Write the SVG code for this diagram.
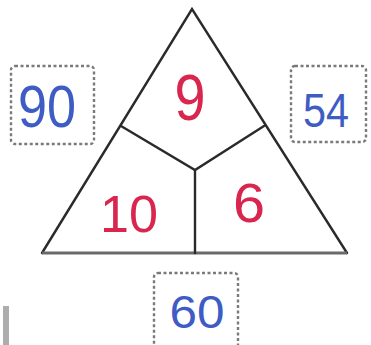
<svg xmlns="http://www.w3.org/2000/svg" width="371" height="345" viewBox="0 0 371 345">
<style>
.edge{stroke:#2a2a2a;stroke-width:2.4;fill:none;stroke-linejoin:miter;stroke-linecap:round}
.box{fill:none;stroke:#7a7a7a;stroke-width:2.4;stroke-dasharray:3 2.5}
.red{fill:#d9264f;font-family:"Liberation Sans",sans-serif;text-anchor:middle}
.blue{fill:#3e5cc4;font-family:"Liberation Sans",sans-serif;text-anchor:middle}
</style>
<rect width="371" height="345" fill="#ffffff"/>
<g id="connectors">
<path class="edge" d="M42,253 L192,9 L347,253"/>
<path d="M42,253 L347,253" stroke="#6a6a6a" stroke-width="3" fill="none"/>
<path class="edge" d="M121,126 L195,170 L264,126"/>
<path class="edge" d="M195,170 L195,253"/>
</g>
<g id="top"><text class="red" x="190" y="120" font-size="64" textLength="31" lengthAdjust="spacingAndGlyphs">9</text></g>
<g id="left"><text class="red" x="129" y="232" font-size="52" textLength="58" lengthAdjust="spacingAndGlyphs">10</text></g>
<g id="right"><text class="red" x="249" y="222" font-size="56" textLength="32" lengthAdjust="spacingAndGlyphs">6</text></g>
<g id="box-90"><rect class="box" x="11" y="66" width="83" height="78" rx="4"/><text class="blue" x="47" y="127" font-size="60" textLength="58" lengthAdjust="spacingAndGlyphs">90</text></g>
<g id="box-54"><rect class="box" x="291" y="66" width="75" height="76" rx="4"/><text class="blue" x="326" y="127" font-size="48" textLength="46" lengthAdjust="spacingAndGlyphs">54</text></g>
<g id="box-60"><rect class="box" x="154" y="273" width="84" height="80" rx="4"/><text class="blue" x="197" y="328" font-size="46" textLength="55" lengthAdjust="spacingAndGlyphs">60</text></g>
<rect x="3" y="306" width="6" height="39" fill="#8a8a8a" opacity="0.7"/>
</svg>
